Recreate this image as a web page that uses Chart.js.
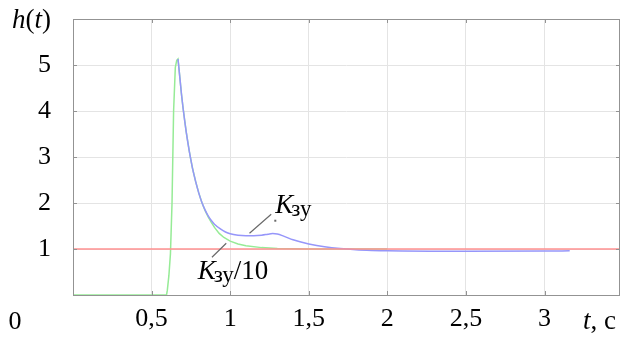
<!DOCTYPE html>
<html><head><meta charset="utf-8">
<script src="https://cdn.jsdelivr.net/npm/chart.js@4"></script>
<style>html,body{margin:0;padding:0;background:#fff;}</style>
</head><body>
<canvas id="c" width="622" height="338"></canvas>
<script>
// ---- data ----
const xTicks = [0.5, 1, 1.5, 2, 2.5, 3];
const xTickLabels = ['0,5', '1', '1,5', '2', '2,5', '3'];
const yTicks = [1, 2, 3, 4, 5];
const yTickLabels = ['1', '2', '3', '4', '5'];

// K/10 (green)
const tGreen = [0, 0.595, 0.60, 0.61, 0.62, 0.63, 0.64, 0.651, 0.66, 0.668, 0.68, 0.69, 0.70, 0.72, 0.74, 0.76, 0.78, 0.80, 0.82, 0.84, 0.86, 0.88, 0.90, 0.93, 0.96, 1.0, 1.05, 1.1, 1.2, 1.3, 1.5, 1.8, 2.0];
const hGreen = [0, 0, 0.1, 0.42, 0.9, 2.0, 4.0, 4.95, 5.1, 5.13, 4.72, 4.37, 4.07, 3.55, 3.12, 2.76, 2.47, 2.22, 2.01, 1.84, 1.70, 1.58, 1.47, 1.34, 1.25, 1.17, 1.11, 1.07, 1.03, 1.01, 1.0, 1.0, 1.0];
// K (blue)
const tBlue = [0.668, 0.68, 0.69, 0.70, 0.72, 0.74, 0.76, 0.78, 0.80, 0.82, 0.84, 0.86, 0.88, 0.90, 0.94, 0.97, 1.0, 1.05, 1.1, 1.15, 1.2, 1.24, 1.27, 1.3, 1.34, 1.4, 1.45, 1.5, 1.6, 1.7, 1.8, 1.9, 2.0, 2.5, 3.0, 3.16];
const hBlue = [5.13, 4.72, 4.37, 4.07, 3.55, 3.12, 2.76, 2.47, 2.22, 2.01, 1.85, 1.72, 1.62, 1.54, 1.43, 1.37, 1.33, 1.30, 1.29, 1.29, 1.30, 1.32, 1.335, 1.325, 1.28, 1.20, 1.15, 1.11, 1.05, 1.01, 0.985, 0.97, 0.96, 0.95, 0.955, 0.96];
// reference level (red)
const tRed = [0, 3.48];
const hRed = [1, 1];

const pts = (t, h) => t.map((v, i) => ({x: v, y: h[i]}));
const FONT = '"Liberation Serif", serif';
Chart.defaults.font.family = FONT;

const decor = {
  id: 'decor',
  afterDraw(chart) {
    const ctx = chart.ctx, a = chart.chartArea;
    const xs = chart.scales.x, ys = chart.scales.y;
    const X = v => xs.getPixelForValue(v), Y = v => ys.getPixelForValue(v);
    ctx.save();
    // frame
    ctx.strokeStyle = '#939393'; ctx.lineWidth = 1;
    ctx.strokeRect(a.left + 0.5, a.top + 0.5, a.right - a.left - 1, a.bottom - a.top);
    // inner tick marks
    ctx.beginPath();
    xTicks.forEach(v => { const px = Math.round(X(v)) + 0.5;
      ctx.moveTo(px, a.bottom); ctx.lineTo(px, a.bottom - 4);
      ctx.moveTo(px, a.top); ctx.lineTo(px, a.top + 4); });
    yTicks.forEach(v => { const py = Math.round(Y(v)) + 0.5;
      ctx.moveTo(a.left, py); ctx.lineTo(a.left + 4, py);
      ctx.moveTo(a.right, py); ctx.lineTo(a.right - 4, py); });
    ctx.stroke();
    // leader lines
    ctx.strokeStyle = '#6a6a6a'; ctx.lineWidth = 1.2;
    ctx.beginPath();
    ctx.moveTo(X(1.123), Y(1.341)); ctx.lineTo(X(1.261), Y(1.754));
    ctx.moveTo(X(0.884), Y(0.820)); ctx.lineTo(X(0.975), Y(1.124));
    ctx.stroke();
    ctx.fillStyle = '#6a6a6a';
    ctx.fillRect(X(1.287) - 1, Y(1.615) - 1, 2, 2);
    // texts
    ctx.fillStyle = '#000'; ctx.textBaseline = 'alphabetic'; ctx.textAlign = 'left';
    function kLabel(x, y, tail) {
      ctx.font = 'italic 27px ' + FONT;
      ctx.fillText('K', x, y);
      let w = ctx.measureText('K').width;
      ctx.font = '23px ' + FONT;
      ctx.fillText('зу', x + w - 2, y + 3);
      let w2 = ctx.measureText('зу').width;
      if (tail) { ctx.font = '27px ' + FONT; ctx.fillText(tail, x + w - 2 + w2, y); }
    }
    kLabel(X(1.287), Y(1.783), '');
    kLabel(X(0.793), Y(0.341), '/10');
    // h(t)
    ctx.font = 'italic 27px ' + FONT;
    let x0 = 12;
    ctx.fillText('h', x0, 28); x0 += ctx.measureText('h').width;
    ctx.font = '27px ' + FONT; ctx.fillText('(', x0, 28); x0 += ctx.measureText('(').width;
    ctx.font = 'italic 27px ' + FONT; ctx.fillText('t', x0, 28); x0 += ctx.measureText('t').width;
    ctx.font = '27px ' + FONT; ctx.fillText(')', x0, 28);
    // origin 0
    ctx.font = '26px ' + FONT; ctx.textAlign = 'center';
    ctx.fillText('0', 15, 329);
    // t, c
    ctx.textAlign = 'left';
    let x1 = 583;
    ctx.font = 'italic 27px ' + FONT; ctx.fillText('t', x1, 329); x1 += ctx.measureText('t').width;
    ctx.font = '27px ' + FONT; ctx.fillText(', с', x1, 329);
    ctx.restore();
  }
};

new Chart(document.getElementById('c'), {
  type: 'line',
  data: {
    datasets: [
      {data: pts(tRed, hRed), borderColor: 'rgb(255,145,145)', borderWidth: 1.6, pointRadius: 0, tension: 0},
      {data: pts(tBlue, hBlue), borderColor: 'rgb(150,150,250)', borderWidth: 1.5, pointRadius: 0, cubicInterpolationMode: 'monotone'},
      {data: pts(tGreen, hGreen), borderColor: 'rgb(150,235,150)', borderWidth: 1.5, pointRadius: 0, tension: 0}
    ]
  },
  options: {
    responsive: false, animation: false, devicePixelRatio: 1,
    layout: {padding: {top: 19, right: 2, left: 0, bottom: 0}},
    plugins: {legend: {display: false}, tooltip: {enabled: false}},
    scales: {
      x: {
        type: 'linear', min: 0, max: 3.48,
        afterBuildTicks: s => { s.ticks = xTicks.map(v => ({value: v})); },
        afterFit: s => { s.height = 43; s.paddingLeft = 0; s.paddingRight = 0; },
        ticks: {callback: (v, i) => xTickLabels[i], color: '#000', font: {family: FONT, size: 26}, padding: 9, maxRotation: 0, autoSkip: false},
        grid: {color: '#e4e4e4', drawTicks: false, lineWidth: 1},
        border: {display: false}
      },
      y: {
        type: 'linear', min: 0, max: 6,
        afterBuildTicks: s => { s.ticks = yTicks.map(v => ({value: v})); },
        afterFit: s => { s.width = 73; s.paddingTop = 0; s.paddingBottom = 0; },
        ticks: {callback: (v, i) => yTickLabels[i], color: '#000', font: {family: FONT, size: 26}, padding: 22},
        grid: {color: '#e4e4e4', drawTicks: false, lineWidth: 1},
        border: {display: false}
      }
    }
  },
  plugins: [decor]
});
</script>
</body></html>
